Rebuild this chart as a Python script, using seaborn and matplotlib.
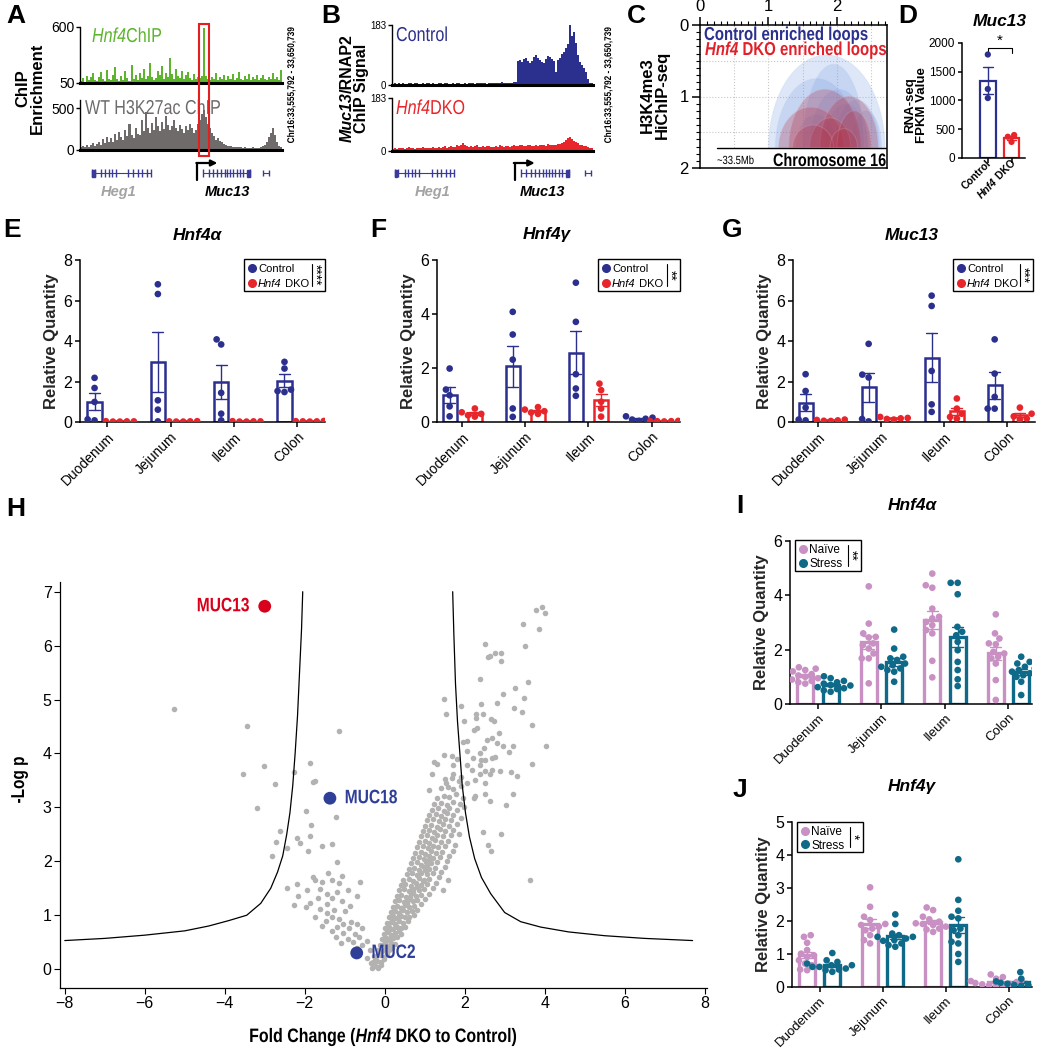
import numpy as np
import pandas as pd
import matplotlib
matplotlib.use("Agg")
import matplotlib.pyplot as plt
import seaborn as sns
from matplotlib.patches import Rectangle, Polygon, PathPatch
from matplotlib.lines import Line2D
from matplotlib.textpath import TextPath
from matplotlib.font_manager import FontProperties
from matplotlib.transforms import Affine2D

# ---------------- data ----------------
tissues = ["Duodenum", "Jejunum", "Ileum", "Colon"]

green_sig = [70, 95, 62, 120, 80, 105, 150, 75, 66, 110,
             160, 88, 70, 175, 92, 78, 130, 210, 85, 70,
             120, 80, 165, 100, 74, 230, 90, 130, 82, 150,
             100, 190, 86, 120, 250, 105, 80, 95, 170, 125,
             215, 90, 150, 110, 300, 135, 85, 190, 120, 95,
             170, 88, 125, 160, 100, 80, 140, 90, 110, 98,
             120, 590, 115, 85, 75, 110, 92, 150, 80, 105,
             88, 130, 80, 115, 92, 140, 76, 100, 160, 86,
             82, 120, 90, 135, 76, 105, 88, 125, 80, 95,
             130, 86, 78, 110, 92, 150, 86, 105, 82, 175]
grey_sig = [30, 48, 35, 62, 40, 55, 85, 50, 72, 95,
            60, 130, 85, 160, 100, 140, 95, 190, 125, 210,
            150, 115, 240, 170, 310, 185, 140, 260, 195, 175,
            360, 225, 455, 265, 205, 320, 245, 390, 285, 225,
            340, 255, 410, 305, 235, 285, 360, 265, 225, 305,
            255, 205, 285, 235, 315, 265, 205, 245, 310, 360,
            430, 480, 390, 310, 265, 205, 165, 125, 145, 105,
            92, 72, 62, 52, 46, 40, 36, 30, 36, 30,
            26, 30, 24, 20, 26, 30, 24, 20, 26, 30,
            42, 62, 95, 155, 205, 262, 185, 95, 52, 30]

# B: RNAP2 ChIP tracks
ctrl_sig = [4, 5, 3, 6, 4, 5, 4, 3, 5, 6,
            4, 5, 6, 4, 3, 5, 4, 6, 5, 4,
            5, 3, 4, 6, 5, 4, 5, 6, 4, 3,
            5, 4, 6, 5, 4, 3, 5, 4, 6, 7,
            5, 4, 6, 5, 7, 6, 5, 4, 6, 5,
            7, 6, 5, 6, 8, 7, 6, 5, 6, 7,
            8, 9, 72, 75, 70, 78, 82, 74, 68, 72,
            85, 90, 82, 76, 70, 66, 80, 88, 84, 78,
            72, 40, 76, 82, 95, 102, 112, 125, 183, 150,
            162, 128, 92, 70, 60, 52, 40, 18, 7, 5]
dko_sig = [8, 10, 7, 12, 9, 11, 8, 10, 13, 9,
           11, 8, 12, 10, 9, 13, 11, 10, 12, 9,
           14, 10, 12, 15, 11, 13, 16, 12, 14, 18,
           13, 15, 20, 17, 22, 26, 20, 18, 15, 17,
           14, 16, 19, 15, 13, 17, 14, 16, 18, 15,
           13, 17, 15, 19, 16, 14, 18, 16, 15, 17,
           20, 18, 16, 19, 22, 18, 17, 21, 19, 16,
           18, 20, 17, 22, 19, 21, 18, 23, 20, 19,
           22, 21, 24, 23, 28, 32, 38, 45, 48, 40,
           36, 30, 26, 22, 20, 18, 16, 14, 12, 10]
heg1_exons = [0.0, 0.05, 0.16, 0.22, 0.28, 0.34, 0.40, 0.62, 0.70, 0.78, 0.86, 0.93, 1.0]
muc13_exons = [0.0, 0.12, 0.22, 0.30, 0.38, 0.46, 0.52, 0.58, 0.64, 0.72, 0.80, 0.86, 1.0]

# C: HiChIP loops (start, end, apex on the 0-2 scale)
blue_loops = [(1.00, 2.70, 0.42), (1.10, 2.30, 0.75), (1.60, 2.45, 0.90), (1.80, 2.45, 1.10),
              (1.95, 2.62, 1.05), (1.40, 2.00, 1.25), (2.20, 2.65, 1.20), (1.50, 2.40, 0.55)]
red_loops = [(1.30, 2.35, 0.90), (1.15, 2.10, 1.15), (1.75, 2.60, 1.00), (1.60, 2.20, 1.30),
             (2.00, 2.50, 1.20), (1.35, 1.95, 1.40), (1.90, 2.30, 1.45)]

# D: RNA-seq FPKM
d_groups = ["Control", "Hnf4 DKO"]
d_ctrl = [1800, 1200, 1043]
d_dko = [400, 370, 280]

# E-G: qPCR, Control vs Hnf4 DKO
e_ctrl = [[2.18, 1.68, 0.99, 0.08, 0.13], [6.80, 6.32, 1.07, 0.61, 0.03],
          [4.08, 3.83, 1.44, 0.41, 0.08], [2.97, 2.64, 1.60, 1.53, 1.48]]
e_dko = [[0.03, 0.02, 0.04, 0.03, 0.02], [0.02, 0.03, 0.04, 0.02, 0.03],
         [0.03, 0.02, 0.03, 0.04, 0.02], [0.04, 0.03, 0.02, 0.03, 0.05]]
f_ctrl = [[1.98, 1.20, 0.99, 0.58, 0.21], [4.08, 3.24, 2.31, 0.50, 0.19],
          [5.16, 3.71, 1.77, 1.24, 0.97], [0.21, 0.16, 0.12, 0.09, 0.04]]
f_dko = [[0.50, 0.36, 0.30, 0.25, 0.20], [0.55, 0.46, 0.40, 0.35, 0.30],
         [1.42, 1.18, 0.75, 0.50, 0.20], [0.04, 0.03, 0.03, 0.02, 0.03]]
g_ctrl = [[2.36, 1.53, 0.71, 0.12, 0.08], [3.86, 2.34, 2.20, 0.15, 0.03],
          [6.24, 5.73, 2.52, 0.87, 0.50], [4.08, 2.39, 1.24, 0.66, 0.66]]
g_dko = [[0.12, 0.10, 0.08, 0.06, 0.05], [0.25, 0.20, 0.18, 0.15, 0.12],
         [1.16, 0.66, 0.41, 0.25, 0.17], [0.71, 0.41, 0.28, 0.17, 0.12]]

# I-J: qPCR, Naive vs Stress
i_naive = [[1.35, 1.30, 1.25, 1.20, 1.10, 1.05, 1.00, 0.95, 0.90, 0.85, 0.80, 0.75],
           [4.33, 2.96, 2.60, 2.47, 2.45, 2.23, 2.17, 2.04, 1.86, 1.68, 1.68, 0.76],
           [4.80, 4.37, 4.28, 3.51, 3.21, 3.15, 3.02, 2.90, 2.72, 2.60, 1.59, 0.98],
           [3.30, 2.60, 2.41, 2.23, 2.20, 1.92, 1.86, 1.74, 1.68, 1.49, 0.88, 0.15]]
i_stress = [[1.02, 0.95, 0.85, 0.80, 0.75, 0.70, 0.68, 0.62, 0.58, 0.55, 0.50, 0.45],
            [2.74, 2.04, 1.74, 1.68, 1.62, 1.49, 1.43, 1.37, 1.31, 1.25, 1.19, 0.82],
            [4.46, 4.46, 4.04, 2.84, 2.66, 2.53, 2.29, 1.98, 1.55, 1.25, 0.91, 0.66],
            [1.74, 1.55, 1.49, 1.37, 1.31, 1.25, 1.19, 1.13, 1.06, 1.00, 0.82, 0.33]]
j_naive = [[1.57, 1.52, 1.34, 1.12, 1.01, 0.96, 0.91, 0.81, 0.71, 0.66, 0.53, 0.51],
           [3.02, 2.43, 2.13, 2.03, 1.91, 1.88, 1.83, 1.77, 1.72, 1.57, 1.42, 1.32],
           [2.41, 2.33, 2.13, 2.05, 1.98, 1.93, 1.91, 1.88, 1.83, 1.77, 1.74, 1.67],
           [0.38, 0.30, 0.25, 0.20, 0.18, 0.15, 0.12, 0.10, 0.08, 0.06, 0.05, 0.03]]
j_stress = [[1.03, 0.81, 0.76, 0.71, 0.66, 0.66, 0.61, 0.61, 0.56, 0.53, 0.51, 0.46],
            [2.20, 1.91, 1.62, 1.57, 1.52, 1.52, 1.47, 1.42, 1.40, 1.32, 1.27, 1.22],
            [3.87, 2.64, 2.31, 2.13, 2.08, 1.77, 1.72, 1.57, 1.37, 1.32, 1.00, 0.76],
            [0.45, 0.25, 0.20, 0.17, 0.15, 0.13, 0.12, 0.10, 0.08, 0.06, 0.05, 0.04]]

# H: volcano plot (fold change, -log p)
vol_upper = [(3.94, 6.71), (3.78, 6.66), (4.01, 6.61), (3.45, 6.41), (3.85, 6.30), (2.52, 6.03),
             (3.51, 5.99), (2.75, 5.87), (2.90, 5.87), (2.64, 5.81), (2.59, 5.78), (2.90, 5.72),
             (2.38, 5.39), (3.58, 5.33), (3.27, 5.21), (2.95, 5.10), (1.49, 5.01), (3.49, 5.02),
             (2.80, 4.94), (2.40, 4.91), (1.91, 4.88), (3.24, 4.84), (3.44, 4.77), (2.46, 4.73),
             (1.53, 4.73), (2.29, 4.73), (2.29, 4.66), (2.66, 4.64), (2.73, 4.60), (1.98, 4.60),
             (3.69, 4.52), (2.32, 4.47), (2.24, 4.44), (2.87, 4.38), (2.69, 4.29), (2.57, 4.25),
             (2.05, 4.23), (1.96, 4.21), (2.81, 4.19), (3.22, 4.14), (2.95, 4.13), (4.03, 4.13),
             (2.48, 4.10), (2.07, 4.04), (3.10, 4.03), (2.38, 4.01), (1.49, 3.98), (1.68, 3.96),
             (2.75, 3.93), (2.69, 3.92), (2.20, 3.91), (1.80, 3.89), (2.40, 3.88), (2.50, 3.87),
             (1.24, 3.85), (1.30, 3.80), (3.69, 3.80), (2.05, 3.79), (2.38, 3.79), (1.70, 3.78),
             (2.19, 3.70), (2.89, 3.68), (2.52, 3.68), (2.69, 3.70), (1.18, 3.62), (1.70, 3.61),
             (2.38, 3.61), (2.64, 3.61), (3.15, 3.65), (3.31, 3.59), (1.90, 3.57), (1.53, 3.45),
             (2.05, 3.45), (2.52, 3.45), (2.26, 3.51), (3.63, 1.65), (2.90, 2.51), (3.04, 3.05),
             (3.22, 3.24), (2.67, 2.20), (2.58, 2.30), (2.46, 2.55), (2.64, 3.11), (2.26, 3.22),
             (2.50, 3.24), (1.10, 3.33), (2.23, 3.17)]
vol_left = [(-5.27, 4.82), (-3.45, 4.50), (-1.15, 4.41), (-1.88, 3.82), (-3.02, 3.76), (-3.55, 3.61),
            (-2.26, 3.66), (-1.74, 3.49), (-1.80, 3.47), (-2.75, 3.43), (-3.20, 2.98), (-1.21, 2.82),
            (-1.97, 2.93), (-2.61, 2.56), (-1.85, 2.68), (-1.88, 2.47), (-2.71, 2.36), (-2.20, 2.43),
            (-1.33, 2.33), (-2.12, 2.34), (-1.56, 2.29), (-2.44, 2.24), (-1.91, 2.20), (-2.81, 2.10),
            (-1.19, 1.98), (-1.80, 1.71), (-1.42, 1.78), (-1.07, 1.72), (-1.74, 1.65), (-1.56, 1.61),
            (-1.33, 1.65), (-2.20, 1.57), (-1.15, 1.59), (-2.44, 1.51), (-0.63, 1.61), (-1.94, 1.46),
            (-1.62, 1.49), (-1.45, 1.40), (-1.19, 1.43), (-0.92, 1.46), (-0.69, 1.35), (-2.17, 1.36),
            (-1.68, 1.31), (-1.33, 1.32), (-1.07, 1.27), (-1.88, 1.23), (-2.26, 1.19), (-1.45, 1.21),
            (-0.86, 1.18), (-1.97, 1.15), (-1.62, 1.12), (-1.27, 1.09), (-1.00, 1.07), (-1.45, 1.04),
            (-1.74, 0.97), (-1.33, 0.96), (-1.15, 0.93), (-1.47, 0.90), (-0.84, 0.88), (-1.04, 0.84),
            (-0.69, 0.84), (-1.56, 0.80), (-1.19, 0.79), (-0.89, 0.76), (-0.57, 0.77), (-1.33, 0.70),
            (-1.04, 0.67), (-0.75, 0.66), (-1.21, 0.59), (-0.92, 0.56), (-0.65, 0.60), (-0.45, 0.53),
            (-0.80, 0.50), (-1.10, 0.48), (-0.57, 0.45), (-0.37, 0.36), (-0.69, 0.39), (-0.28, 0.25),
            (-0.22, 0.15), (-0.16, 0.04), (-0.34, 0.11), (-0.45, 0.20), (-0.10, 0.08)]
vol_core = [(-0.32, 0.03), (-0.25, 0.06), (-0.18, 0.02), (-0.28, 0.10),
            (-0.30, 0.14), (-0.20, 0.16), (-0.10, 0.13), (-0.02, 0.18), (-0.24, 0.20),
            (-0.22, 0.24), (-0.12, 0.27), (-0.02, 0.23), (0.06, 0.28), (-0.16, 0.31),
            (-0.18, 0.36), (-0.08, 0.34), (0.02, 0.38), (0.12, 0.35), (0.18, 0.40),
            (-0.12, 0.44), (-0.02, 0.47), (0.08, 0.43), (0.16, 0.48), (0.25, 0.46), (0.04, 0.52),
            (-0.07, 0.56), (0.03, 0.58), (0.12, 0.55), (0.22, 0.57), (0.30, 0.60), (0.15, 0.62),
            (-0.02, 0.66), (0.07, 0.68), (0.17, 0.64), (0.26, 0.67), (0.36, 0.70), (0.42, 0.66), (0.10, 0.72),
            (0.02, 0.76), (0.12, 0.78), (0.21, 0.74), (0.30, 0.79), (0.40, 0.76), (0.50, 0.78), (0.25, 0.83),
            (0.06, 0.86), (0.16, 0.88), (0.26, 0.84), (0.35, 0.89), (0.45, 0.86), (0.58, 0.90), (0.20, 0.93),
            (0.10, 0.96), (0.20, 0.98), (0.30, 0.94), (0.40, 0.99), (0.50, 0.96), (0.62, 0.97), (0.74, 1.00), (0.35, 1.03),
            (0.15, 1.06), (0.25, 1.08), (0.35, 1.04), (0.46, 1.09), (0.56, 1.06), (0.68, 1.07), (0.82, 1.10), (0.40, 1.13),
            (0.20, 1.16), (0.30, 1.18), (0.42, 1.14), (0.52, 1.19), (0.62, 1.16), (0.74, 1.18), (0.90, 1.20), (0.55, 1.23),
            (0.26, 1.26), (0.36, 1.28), (0.48, 1.24), (0.58, 1.29), (0.70, 1.26), (0.82, 1.28), (1.00, 1.30), (0.64, 1.33),
            (0.30, 1.36), (0.42, 1.38), (0.54, 1.34), (0.66, 1.39), (0.78, 1.36), (0.90, 1.38), (1.10, 1.40), (0.72, 1.43),
            (0.36, 1.46), (0.48, 1.48), (0.60, 1.44), (0.72, 1.49), (0.85, 1.46), (0.98, 1.48), (1.20, 1.50), (1.45, 1.47), (0.80, 1.53),
            (0.40, 1.56), (0.52, 1.58), (0.66, 1.54), (0.78, 1.59), (0.90, 1.56), (1.05, 1.58), (1.28, 1.60), (0.95, 1.63),
            (0.46, 1.66), (0.60, 1.68), (0.72, 1.64), (0.85, 1.69), (0.98, 1.66), (1.12, 1.68), (1.35, 1.70), (1.58, 1.66),
            (0.55, 1.76), (0.68, 1.78), (0.80, 1.74), (0.92, 1.79), (1.05, 1.76), (1.20, 1.78), (1.42, 1.80), (1.00, 1.83),
            (0.60, 1.86), (0.74, 1.88), (0.86, 1.84), (0.98, 1.89), (1.10, 1.86), (1.26, 1.88), (1.50, 1.90), (1.05, 1.93),
            (0.66, 1.96), (0.80, 1.98), (0.92, 1.94), (1.04, 1.99), (1.16, 1.96), (1.30, 1.98), (1.55, 2.00), (1.12, 2.03),
            (0.72, 2.06), (0.86, 2.08), (0.98, 2.04), (1.10, 2.09), (1.22, 2.06), (1.38, 2.08), (1.62, 2.10),
            (0.76, 2.16), (0.90, 2.18), (1.02, 2.14), (1.15, 2.19), (1.28, 2.16), (1.44, 2.18), (1.70, 2.20),
            (0.82, 2.26), (0.96, 2.28), (1.08, 2.24), (1.20, 2.29), (1.34, 2.26), (1.50, 2.28), (1.75, 2.30),
            (0.86, 2.36), (1.00, 2.38), (1.12, 2.34), (1.26, 2.39), (1.40, 2.36), (1.58, 2.38),
            (0.90, 2.46), (1.05, 2.48), (1.18, 2.44), (1.30, 2.49), (1.46, 2.46), (1.65, 2.48), (1.85, 2.50),
            (0.95, 2.56), (1.10, 2.58), (1.24, 2.54), (1.38, 2.59), (1.52, 2.56), (1.72, 2.58),
            (1.00, 2.66), (1.16, 2.68), (1.30, 2.64), (1.45, 2.69), (1.60, 2.66), (1.80, 2.70),
            (1.06, 2.76), (1.22, 2.78), (1.36, 2.74), (1.50, 2.79), (1.66, 2.76), (1.90, 2.80),
            (1.12, 2.86), (1.28, 2.88), (1.42, 2.84), (1.56, 2.89), (1.72, 2.86),
            (1.18, 2.96), (1.34, 2.98), (1.48, 2.94), (1.62, 2.99), (1.80, 2.96), (1.98, 3.00),
            (1.24, 3.06), (1.40, 3.08), (1.55, 3.04), (1.70, 3.10), (1.88, 3.06),
            (1.32, 3.18), (1.48, 3.22), (1.62, 3.20), (1.78, 3.24), (1.95, 3.18),
            (1.42, 3.36), (1.58, 3.38), (1.72, 3.34), (1.90, 3.40),
            (1.50, 3.52), (1.68, 3.55), (1.85, 3.48)]
hl_names = ["MUC13", "MUC18", "MUC2"]
hl_fc = [-3.0, -1.37, -0.70]
hl_logp = [6.73, 3.17, 0.30]
curve_left_x = [-8.0, -7.0, -6.0, -5.0, -4.4, -3.9, -3.45, -3.1, -2.85, -2.68, -2.55, -2.45,
                -2.37, -2.30, -2.24, -2.18, -2.13, -2.08, -2.05]
curve_left_y = [0.53, 0.57, 0.63, 0.71, 0.80, 0.90, 1.00, 1.22, 1.50, 1.80, 2.10, 2.50,
                2.90, 3.40, 4.00, 4.70, 5.50, 6.30, 7.00]
curve_right_x = [1.70, 1.73, 1.77, 1.82, 1.88, 1.94, 2.02, 2.12, 2.25, 2.42, 2.65, 3.00,
                 3.40, 3.90, 4.60, 5.50, 6.50, 7.70]
curve_right_y = [7.00, 6.20, 5.30, 4.60, 4.00, 3.40, 2.90, 2.45, 2.05, 1.70, 1.40, 1.05,
                 0.88, 0.78, 0.69, 0.62, 0.57, 0.53]

# ---------------- style ----------------
W, H = 1038, 1050
NAVY = "#2b2f8e"
RED = "#e8252a"
PINK = "#c890c3"
TEAL = "#0e6a88"
GREEN = "#5db52e"
GREYTXT = "#6e6a6a"
GENE = "#3a3a9c"
FAMILY = ["Liberation Sans", "DejaVu Sans"]

sns.set_theme(style="ticks")
plt.rcParams["font.family"] = FAMILY
plt.rcParams.update({"axes.linewidth": 1.1, "axes.edgecolor": "black",
                     "xtick.color": "black", "ytick.color": "black", "text.color": "black",
                     "xtick.major.width": 1.1, "ytick.major.width": 1.1,
                     "xtick.major.size": 3.5, "ytick.major.size": 3.5,
                     "xtick.major.pad": 2, "ytick.major.pad": 2})

fig = plt.figure(figsize=(W / 100, H / 100), dpi=100)
renderer = fig.canvas.get_renderer()


def fx(x):
    return x / W


def fy(y):
    return 1 - y / H


def px_axes(x0, y0, x1, y1):
    return fig.add_axes([fx(x0), fy(y1), (x1 - x0) / W, (y1 - y0) / H])


def label(x, y, s, **kw):
    return fig.text(fx(x), fy(y), s, **kw)


def text_width(s, **kw):
    a = fig.text(0, 0, "|" + s + "|", **kw)
    b = fig.text(0, 0, "||", **kw)
    w = a.get_window_extent(renderer).width - b.get_window_extent(renderer).width
    a.remove()
    b.remove()
    return w


def rich(x, y, parts, size, rot=0, align="left", va="baseline", stretch=1.0, **common):
    # mixed italic / upright pieces laid out along the text direction;
    # stretch < 1 draws the glyphs as paths squeezed sideways (condensed face)
    kws = [dict(common, fontsize=size, **p) for _, p in parts]
    widths = [text_width(s, **k) * stretch for (s, _), k in zip(parts, kws)]
    d = {"left": 0, "center": -sum(widths) / 2, "right": -sum(widths)}[align]
    c, s_ = np.cos(np.deg2rad(rot)), np.sin(np.deg2rad(rot))
    for (txt, _), k, w in zip(parts, kws, widths):
        px, py = x + d * c, y - d * s_
        if stretch == 1.0:
            fig.text(fx(px), fy(py), txt, rotation=rot, rotation_mode="anchor",
                     ha="left", va=va, **k)
        else:
            prop = FontProperties(family=k.get("family", FAMILY), weight=k.get("fontweight", "normal"),
                                  style=k.get("style", "normal"), size=size)
            tp = TextPath((0, 0), txt, prop=prop)
            tr = Affine2D().scale(stretch * 100 / 72, 100 / 72).rotate_deg(rot).translate(px, H - py)
            fig.add_artist(PathPatch(tp, transform=tr, facecolor=k.get("color", "black"),
                                     edgecolor="none"))
        d += w


def panel_letter(x, y, s):
    label(x, y, s, fontsize=19, fontweight="bold", va="top", ha="left")


def legend_box(x0, y0, x1, y1, entries, stars, size=8.5):
    fig.add_artist(Rectangle((fx(x0), fy(y1)), (x1 - x0) / W, (y1 - y0) / H,
                             transform=fig.transFigure, fill=False, ec="black", lw=1))
    for i, (parts, color) in enumerate(entries):
        yy = y0 + (y1 - y0) * (0.29 + 0.45 * i)
        fig.add_artist(Line2D([fx(x0 + 8)], [fy(yy)], marker="o", ms=5.5, color=color,
                              transform=fig.transFigure))
        rich(x0 + 14, yy, parts, size, va="center_baseline")
    fig.add_artist(Line2D([fx(x1 - 13), fx(x1 - 13)], [fy(y0 + 5), fy(y1 - 5)],
                          color="black", lw=0.8, transform=fig.transFigure))
    label(x1 - 10, (y0 + y1) / 2, stars, rotation=270, ha="center", va="center", fontsize=10)


def long_df(a, b, names):
    rows = []
    for t, va, vb in zip(tissues, a, b):
        rows += [(t, names[0], v) for v in va] + [(t, names[1], v) for v in vb]
    return pd.DataFrame(rows, columns=["tissue", "group", "value"])


def qpcr_panel(box, a, b, names, colors, ylim, yticks, xlim, lw, gap, msize, tick_size):
    ax = px_axes(*box)
    df = long_df(a, b, names)
    pal = dict(zip(names, colors))
    sns.barplot(data=df, x="tissue", y="value", hue="group", order=tissues, hue_order=names,
                palette=pal, fill=False, errorbar="se", capsize=0.35, gap=gap, linewidth=lw,
                err_kws={"linewidth": 1.0}, legend=False, ax=ax)
    sns.swarmplot(data=df, x="tissue", y="value", hue="group", order=tissues, hue_order=names,
                  palette=pal, dodge=True, size=msize, legend=False, ax=ax)
    ax.set_xlim(*xlim)
    ax.set_ylim(*ylim)
    ax.set_yticks(yticks)
    ax.set_xlabel("")
    ax.set_ylabel("Relative Quantity", fontsize=12, fontweight="bold", labelpad=3)
    ax.set_xticks(range(4))
    ax.set_xticklabels(tissues, rotation=45, ha="right", rotation_mode="anchor", fontsize=tick_size)
    ax.tick_params(axis="y", labelsize=11.5)
    sns.despine(ax=ax)
    return ax


def track_axes(box, sig, color, ylim, ticks, tsize):
    ax = px_axes(*box)
    ax.bar(np.arange(len(sig)), sig, width=1.0, color=color, linewidth=0)
    ax.set_xlim(-0.5, len(sig) - 0.5)
    ax.set_ylim(*ylim)
    ax.set_yticks(ticks)
    ax.set_xticks([])
    for s in ["top", "right"]:
        ax.spines[s].set_visible(False)
    ax.spines["bottom"].set_linewidth(2.2)
    ax.spines["left"].set_linewidth(1.0)
    ax.tick_params(axis="y", labelsize=tsize, length=3, width=1, pad=1)
    ax.patch.set_alpha(0)
    return ax


def gene_axes(box, heg, arrow_x, muc, extra, heg_lab, muc_lab):
    ax = px_axes(*box)
    ax.axis("off")
    ax.set_xlim(0, 1)
    ax.set_ylim(200, 158)
    hs, he = heg
    ax.plot([hs, he], [173, 173], color=GENE, lw=0.8)
    ax.vlines([hs + f * (he - hs) for f in heg1_exons], 169, 177, color=GENE, lw=1)
    ax.add_patch(Rectangle((hs, 169.5), 0.012, 7, color=GENE))
    ms, me = muc
    ax.plot([ms, me], [173, 173], color=GENE, lw=0.8)
    ax.vlines([ms + f * (me - ms) for f in muc13_exons], 169, 177, color=GENE, lw=1)
    ax.add_patch(Rectangle((me - 0.014, 169.5), 0.014, 7, color=GENE))
    ax.plot([extra - 0.015, extra + 0.015], [173, 173], color=GENE, lw=0.8)
    ax.vlines([extra - 0.015, extra + 0.015], 170, 176, color=GENE, lw=1)
    ax.plot([arrow_x, arrow_x], [180, 163], color="black", lw=1.6)
    ax.annotate("", xy=(arrow_x + 0.1, 163), xytext=(arrow_x - 0.004, 163),
                arrowprops=dict(arrowstyle="-|>", color="black", lw=1.6, mutation_scale=9,
                                shrinkA=0, shrinkB=0))
    ax.text(heg_lab, 192, "Heg1", color="#a3a3a3", fontsize=10.5, fontweight="bold",
            style="italic", ha="center", va="center")
    ax.text(muc_lab, 192, "Muc13", color="black", fontsize=10.5, fontweight="bold",
            style="italic", ha="center", va="center")
    return ax


# ---------------- A ----------------
panel_letter(6, 4, "A")
label(30, 88, "ChIP\nEnrichment", rotation=90, ha="center", va="center", fontsize=12,
      fontweight="bold", linespacing=1.0)
track_axes((80, 27, 282, 83), green_sig, GREEN, (50, 600), [50, 600], 10)
track_axes((80, 100, 282, 150), grey_sig, "#6f6b6b", (0, 600), [0, 500], 10)
rich(92, 42, [("Hnf4", {"style": "italic"}), ("ChIP", {})], 14.5, color=GREEN, stretch=0.8)
rich(85, 114, [("WT H3K27ac ChIP", {})], 14.5, color=GREYTXT, stretch=0.8)
fig.add_artist(Rectangle((fx(199), fy(156)), 10 / W, 132 / H, transform=fig.transFigure,
                         fill=False, ec="#e3201f", lw=1.5))
gene_axes((80, 158, 282, 200), (0.06, 0.35), 0.58, (0.61, 0.84), 0.92, 0.19, 0.73)
rich(294, 85, [("Chr16:33,555,792 - 33,650,739", {})], 7, rot=90, align="center",
     stretch=0.85, fontweight="bold")

# ---------------- B ----------------
panel_letter(321, 4, "B")
rich(352, 88, [("Muc13", {"style": "italic"}), ("/RNAP2", {})], 11.5, rot=90, align="center",
     fontweight="bold")
rich(366, 88, [("ChIP Signal", {})], 11.5, rot=90, align="center", fontweight="bold")
track_axes((392, 25, 593, 85), ctrl_sig, NAVY, (0, 183), [0, 183], 7)
track_axes((392, 98, 593, 151), dko_sig, RED, (0, 183), [0, 183], 7)
rich(396, 41, [("Control", {})], 14.5, color=NAVY, stretch=0.8)
rich(396, 114, [("Hnf4", {"style": "italic"}), ("DKO", {})], 14.5, color=RED, stretch=0.8)
gene_axes((392, 158, 593, 200), (0.015, 0.31), 0.61, (0.64, 0.88), 0.975, 0.2, 0.75)
rich(611, 85, [("Chr16:33,555,792 - 33,650,739", {})], 7, rot=90, align="center",
     stretch=0.85, fontweight="bold")

# ---------------- C ----------------
panel_letter(627, 4, "C")
label(655, 95, "H3K4me3\nHiChIP-seq", rotation=90, ha="center", va="center", fontsize=12,
      fontweight="bold", linespacing=1.0)
ax = px_axes(700, 25, 887, 168)
ax.set_xlim(0, 2.73)
ax.set_ylim(2, 0)
ax.xaxis.tick_top()
ax.set_xticks([0, 1, 2])
ax.set_xticks(np.arange(0, 2.71, 0.1), minor=True)
ax.set_yticks([0, 1, 2])
ax.set_yticks(np.arange(0, 2.01, 0.1), minor=True)
ax.tick_params(which="major", length=6, labelsize=12, width=1.1)
ax.tick_params(which="minor", length=3, width=0.8)
for g in [0.5, 1.0, 1.5, 2.0, 2.5]:
    ax.axvline(g, color="#c8c8c8", ls=":", lw=0.8, zorder=0)
for g in [0.5, 1.0, 1.5]:
    ax.axhline(g, color="#c8c8c8", ls=":", lw=0.8, zorder=0)
theta = np.linspace(0, np.pi, 80)
for loops, fc, ec, al in [(blue_loops, "#7fa2e4", "#b9cdf0", 0.25), (red_loops, "#b52a3d", "#dca7ae", 0.26)]:
    for s, e, top in loops:
        xs = (s + e) / 2 + (e - s) / 2 * np.cos(theta)
        ys = 1.72 - (1.72 - top) * np.sin(theta)
        ax.add_patch(Polygon(np.column_stack([xs, ys]), closed=True, facecolor=fc,
                             edgecolor=ec, alpha=al, lw=0.8))
ax.add_patch(Rectangle((0, 1.72), 2.73, 0.28, color="white", zorder=2))
ax.plot([0.25, 2.73], [1.72, 1.72], color="black", lw=1.0, zorder=3)
for s in ax.spines.values():
    s.set_zorder(4)
rich(717, 164, [("~33.5Mb", {})], 8.5, stretch=0.8)
rich(773, 166, [("Chromosome 16", {})], 13, stretch=0.8, fontweight="bold")
rich(704, 40, [("Control enriched loops", {})], 13.5, color=NAVY, stretch=0.8, fontweight="bold")
rich(705, 55, [("Hnf4", {"style": "italic"}), (" DKO enriched loops", {})], 13.5, color="#e2202a",
     stretch=0.8, fontweight="bold")

# ---------------- D ----------------
panel_letter(898, 4, "D")
label(1000, 22, "Muc13", ha="center", va="center", fontsize=12.5, fontweight="bold", style="italic")
label(916, 105, "RNA-seq\nFPKM Value", rotation=90, ha="center", va="center", fontsize=9.5,
      fontweight="bold", linespacing=1.0)
ax = px_axes(962, 43, 1025, 158)
d_df = pd.DataFrame({"group": [d_groups[0]] * len(d_ctrl) + [d_groups[1]] * len(d_dko),
                     "value": d_ctrl + d_dko})
d_pal = {d_groups[0]: NAVY, d_groups[1]: RED}
sns.barplot(data=d_df, x="group", y="value", hue="group", order=d_groups, palette=d_pal,
            fill=False, errorbar="se", capsize=0.4, width=0.65, linewidth=1.6,
            err_kws={"linewidth": 1.0}, legend=False, ax=ax)
sns.swarmplot(data=d_df, x="group", y="value", hue="group", order=d_groups, palette=d_pal,
              size=4.5, legend=False, ax=ax)
ax.set_xlim(-1.09, 1.57)
ax.set_ylim(0, 2000)
ax.set_yticks([0, 500, 1000, 1500, 2000])
ax.set_xticks([0, 1])
ax.set_xticklabels([])
ax.set_xlabel("")
ax.set_ylabel("")
ax.tick_params(axis="y", labelsize=8.5, length=3)
sns.despine(ax=ax)
ax.plot([0, 0, 1, 1], [1830, 1910, 1910, 1830], color="black", lw=0.8)
ax.text(0.5, 1915, "*", ha="center", va="bottom", fontsize=11)
rich(992, 164, [("Control", {})], 7.5, rot=45, align="right", fontweight="bold")
rich(1016, 164, [("Hnf4", {"style": "italic"}), (" DKO", {})], 7.5, rot=45, align="right",
     fontweight="bold")

# ---------------- E, F, G ----------------
ctrl_names = ["Control", "Hnf4 DKO"]
ctrl_cols = [NAVY, RED]
dko_entries = [([("Control", {})], NAVY), ([("Hnf4", {"style": "italic"}), (" DKO", {})], RED)]

panel_letter(3, 218, "E")
label(197, 235, "Hnf4α", ha="center", va="center", fontsize=12.5, fontweight="bold", style="italic")
qpcr_panel((80, 260, 325, 422), e_ctrl, e_dko, ctrl_names, ctrl_cols, (0, 8), [0, 2, 4, 6, 8],
           (-0.43, 3.44), 1.8, 0.44, 4.8, 10)
legend_box(244, 259, 325, 291, dko_entries, "****", size=8)

panel_letter(370, 218, "F")
label(547, 235, "Hnf4γ", ha="center", va="center", fontsize=12.5, fontweight="bold", style="italic")
qpcr_panel((437, 260, 680, 422), f_ctrl, f_dko, ctrl_names, ctrl_cols, (0, 6), [0, 2, 4, 6],
           (-0.40, 3.45), 1.8, 0.44, 4.8, 10)
legend_box(598, 259, 680, 291, dko_entries, "**", size=8)

panel_letter(722, 218, "G")
label(912, 235, "Muc13", ha="center", va="center", fontsize=12.5, fontweight="bold", style="italic")
qpcr_panel((793, 260, 1035, 422), g_ctrl, g_dko, ctrl_names, ctrl_cols, (0, 8), [0, 2, 4, 6, 8],
           (-0.40, 3.44), 1.8, 0.44, 4.8, 10)
legend_box(953, 259, 1033, 291, dko_entries, "***", size=8)

# ---------------- H ----------------
panel_letter(6, 497, "H")
ax = px_axes(60, 582, 707, 988)
grey_df = pd.DataFrame(vol_core + vol_left + vol_upper, columns=["fc", "logp"])
sns.scatterplot(data=grey_df, x="fc", y="logp", color="#b4b1b1", s=16, linewidth=0, ax=ax)
sns.lineplot(x=curve_left_x, y=curve_left_y, sort=False, color="black", lw=0.9, ax=ax)
sns.lineplot(x=curve_right_x, y=curve_right_y, sort=False, color="black", lw=0.9, ax=ax)
hl_df = pd.DataFrame({"name": hl_names, "fc": hl_fc, "logp": hl_logp})
hl_pal = {"MUC13": "#d9001b", "MUC18": "#2f3f98", "MUC2": "#2f3f98"}
sns.scatterplot(data=hl_df, x="fc", y="logp", hue="name", palette=hl_pal,
                s=85, linewidth=0, legend=False, ax=ax)
ax.set_xlim(-8.12, 8.06)
ax.set_ylim(-0.35, 7.18)
ax.set_xticks(range(-8, 9, 2))
ax.set_yticks(range(0, 8))
ax.set_xlabel("")
ax.set_ylabel("")
ax.tick_params(labelsize=11.5, width=0.8, length=4)
for s in ["left", "bottom"]:
    ax.spines[s].set_linewidth(0.9)
sns.despine(ax=ax)
for name, xo, al in [("MUC13", -0.38, "right"), ("MUC18", 0.37, "left"), ("MUC2", 0.37, "left")]:
    i = hl_names.index(name)
    dx, dy = ax.transData.transform((hl_fc[i] + xo, hl_logp[i]))
    rich(dx, H - dy + 5, [(name, {})], 14, align=al, stretch=0.8, fontweight="bold",
         color=hl_pal[name])
rich(24, 780, [("-Log p", {})], 13.5, rot=90, align="center", stretch=0.82, fontweight="bold")
rich(383, 1042, [("Fold Change (", {}), ("Hnf4", {"style": "italic"}), (" DKO to Control)", {})],
     14, align="center", stretch=0.82, fontweight="bold")

# ---------------- I, J ----------------
ns_names = ["Naïve", "Stress"]
ns_cols = [PINK, TEAL]
ns_entries = [([("Naïve", {})], PINK), ([("Stress", {})], TEAL)]

panel_letter(736, 494, "I")
label(912, 505, "Hnf4α", ha="center", va="center", fontsize=12.5, fontweight="bold", style="italic")
qpcr_panel((790, 541, 1032, 704), i_naive, i_stress, ns_names, ns_cols, (0, 6), [0, 2, 4, 6],
           (-0.44, 3.37), 2.4, 0.375, 4.8, 9.5)
legend_box(795, 540, 861, 571, ns_entries, "**")

panel_letter(733, 778, "J")
label(912, 787, "Hnf4γ", ha="center", va="center", fontsize=12.5, fontweight="bold", style="italic")
qpcr_panel((792, 822, 1032, 987), j_naive, j_stress, ns_names, ns_cols, (0, 5), [0, 1, 2, 3, 4, 5],
           (-0.44, 3.37), 2.4, 0.375, 4.8, 9.5)
legend_box(797, 822, 863, 852, ns_entries, "*")

fig.savefig("out.png", dpi=100)
